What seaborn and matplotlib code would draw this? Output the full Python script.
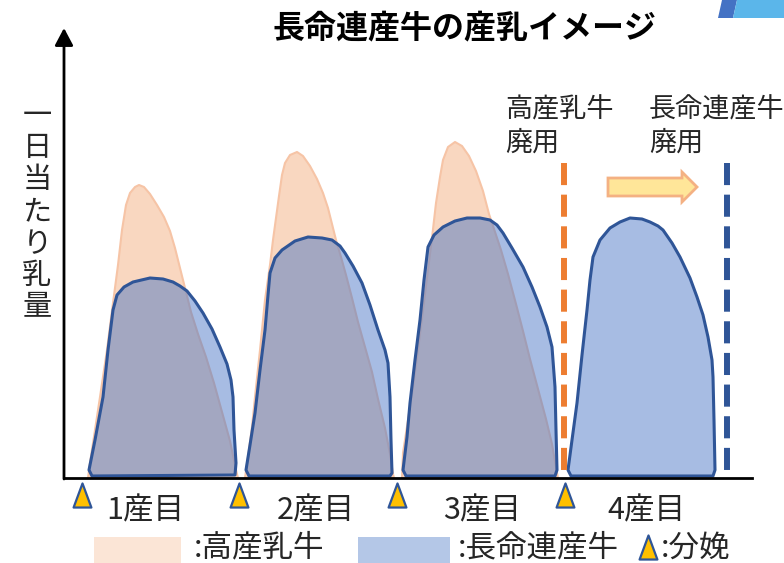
import matplotlib
matplotlib.use('Agg')
import matplotlib.pyplot as plt
import seaborn as sns
from matplotlib.patches import FancyArrow, Rectangle, Polygon
from matplotlib.path import Path

# Outlines of each lactation curve (x: time from the axis origin, y: daily milk)
high_1_x = [24, 26, 31, 36, 43, 49, 54, 58, 62, 66, 71, 75, 80, 86, 93, 100, 106, 111, 116, 121, 127, 134, 142, 150, 158, 166, 172, 174]
high_1_y = [0, 15, 48, 81, 128, 175, 213, 248, 273, 285, 291, 293, 291, 284, 273, 261, 247, 230, 210, 190, 166, 144, 121, 95, 66, 37, 8, 0]
high_2_x = [181, 184, 188, 191, 196, 201, 206, 209, 212, 215, 218, 221, 226, 233, 239, 246, 253, 259, 264, 268, 272, 277, 282, 288, 294, 301, 308, 314, 321, 326, 329, 330]
high_2_y = [0, 21, 51, 81, 128, 178, 213, 238, 260, 282, 303, 315, 323, 326, 322, 312, 299, 285, 270, 254, 238, 221, 203, 180, 156, 131, 106, 79, 50, 24, 4, 0]
high_3_x = [338, 339, 344, 349, 354, 359, 364, 368, 372, 376, 379, 384, 391, 398, 405, 412, 419, 425, 431, 437, 444, 452, 459, 466, 474, 482, 488, 493, 494]
high_3_y = [0, 25, 58, 91, 128, 168, 208, 240, 275, 301, 318, 331, 336, 332, 322, 307, 287, 264, 246, 228, 204, 174, 147, 119, 89, 59, 34, 5, 0]

long_1_x = [28, 25, 31, 39, 44, 49, 53, 60, 69, 86, 99, 109, 116, 123, 131, 139, 148, 156, 163, 167, 169, 170, 172, 171]
long_1_y = [2, 8, 38, 81, 128, 168, 183, 191, 196, 200, 199, 196, 192, 187, 177, 165, 149, 131, 114, 98, 81, 48, 15, 3]
long_2_x = [185, 182, 186, 191, 196, 201, 204, 206, 211, 218, 231, 244, 258, 268, 276, 281, 289, 298, 306, 314, 321, 324, 326, 327, 328, 326]
long_2_y = [2, 8, 33, 65, 108, 148, 183, 205, 220, 228, 237, 241, 240, 238, 232, 225, 212, 195, 173, 148, 128, 115, 81, 38, 5, 2]
long_3_x = [342, 339, 343, 346, 351, 356, 360, 364, 370, 379, 391, 403, 416, 426, 433, 439, 448, 459, 468, 476, 483, 488, 491, 492, 493, 491]
long_3_y = [2, 8, 41, 75, 118, 158, 198, 231, 243, 251, 257, 260, 260, 258, 253, 245, 230, 211, 191, 171, 151, 131, 91, 48, 8, 2]
long_4_x = [507, 504, 508, 513, 518, 523, 526, 529, 536, 546, 556, 566, 578, 586, 594, 599, 608, 616, 626, 633, 639, 644, 648, 649, 650, 651, 649]
long_4_y = [2, 8, 38, 75, 123, 168, 198, 221, 238, 250, 256, 260, 259, 256, 252, 248, 235, 221, 200, 181, 163, 141, 118, 101, 58, 8, 2]

calving_x = [18, 175, 333, 501]
parity_labels = ['1産目', '2産目', '3産目', '4産目']
parity_x = [81, 252, 418, 582]
cull_high_x = 500
cull_long_x = 663
cull_top = 315

sns.set_theme(style='white')
plt.rcParams['font.family'] = ['Noto Sans CJK JP', 'DejaVu Sans']

orange_fill = (244/255, 177/255, 131/255, 0.5)
orange_edge = (246/255, 196/255, 166/255)
blue_fill = (68/255, 114/255, 196/255, 0.47)
blue_edge = '#2F5597'
txt = '#262626'

fig = plt.figure(figsize=(7.84, 5.63), dpi=100)
ax = fig.add_axes([64/784, 85/563, 688/784, 448/563])
ax.set_xlim(0, 688)
ax.set_ylim(0, 448)
ax.set_xticks([])
ax.set_yticks([])
for s in ['top', 'right', 'left']:
    ax.spines[s].set_visible(False)
ax.spines['bottom'].set_color('black')
ax.spines['bottom'].set_linewidth(2)
ax.spines['bottom'].set_zorder(6)

for hx, hy in [(high_1_x, high_1_y), (high_2_x, high_2_y), (high_3_x, high_3_y)]:
    ax.fill(hx, hy, facecolor=orange_fill, edgecolor=orange_edge, lw=1.5, zorder=1, joinstyle='round')
for lx, ly in [(long_1_x, long_1_y), (long_2_x, long_2_y), (long_3_x, long_3_y), (long_4_x, long_4_y)]:
    ax.fill(lx, ly, facecolor=blue_fill, edgecolor=blue_edge, lw=2.2, zorder=2, joinstyle='round')

# cull lines
sns.lineplot(x=[cull_high_x, cull_high_x], y=[cull_top, 0], estimator=None, sort=False,
             color='#ED7D31', lw=4.3, linestyle=(0, (3.7, 1.6)), ax=ax, zorder=3)
sns.lineplot(x=[cull_long_x, cull_long_x], y=[cull_top, 0], estimator=None, sort=False,
             color=blue_edge, lw=4.3, linestyle=(0, (3.7, 1.6)), ax=ax, zorder=3)

ax.add_patch(FancyArrow(544, 291, 89, 0, width=18, head_width=30, head_length=15,
                        length_includes_head=True, fc='#FFE699', ec='#F4B183', lw=2, zorder=4))

# y axis with arrow
ax.annotate('', xy=(0, 450), xytext=(0, -1), annotation_clip=False,
            arrowprops=dict(arrowstyle='-|>,head_length=0.7,head_width=0.37', mutation_scale=15,
                            color='black', lw=2, shrinkA=0, shrinkB=0))

tri = Path([(-0.37, -0.5), (0.37, -0.5), (0, 0.5), (-0.37, -0.5)],
           [Path.MOVETO, Path.LINETO, Path.LINETO, Path.CLOSEPOLY])
ax.scatter(calving_x, [-17] * len(calving_x), marker=tri, s=300, c='#FFC000',
           edgecolors=blue_edge, linewidths=1.6, clip_on=False, zorder=5)

for lab, px in zip(parity_labels, parity_x):
    ax.text(px, -33, lab, ha='center', va='center', fontsize=22, color=txt)

ax.text(-27, 266, '\n'.join('一日当たり乳量'), ha='center', va='center', fontsize=21,
        color=txt, linespacing=1.08)

ax.text(441, 368, '高産乳牛', ha='left', va='center', fontsize=19.5, color=txt)
ax.text(441, 335, '廃用', ha='left', va='center', fontsize=19.5, color=txt)
ax.text(585, 368, '長命連産牛', ha='left', va='center', fontsize=19.5, color=txt)
ax.text(585, 335, '廃用', ha='left', va='center', fontsize=19.5, color=txt)

# legend row
ax.add_patch(Rectangle((30, -85), 87, 26, fc='#FBE5D6', ec='none', clip_on=False))
ax.text(130, -70, ':高産乳牛', ha='left', va='center', fontsize=22, color=txt)
ax.add_patch(Rectangle((294, -85), 92, 26, fc='#B4C7E7', ec='none', clip_on=False))
ax.text(394, -70, ':長命連産牛', ha='left', va='center', fontsize=22, color=txt)
ax.scatter([584], [-69], marker=tri, s=300, c='#FFC000',
           edgecolors=blue_edge, linewidths=1.6, clip_on=False, zorder=5)
ax.text(597, -70, ':分娩', ha='left', va='center', fontsize=22, color=txt)

fig.text(465/784, 1 - 28/563, '長命連産牛の産乳イメージ', ha='center', va='center',
         fontsize=23, fontweight='bold', color='black')

# decoration in the top right corner
W, H = 784, 563
fig.add_artist(Polygon([(718/W, 1 - 18/H), (733/W, 1 - 18/H), (737/W, 1), (722/W, 1)],
                       closed=True, fc='#4472C4', ec='none', transform=fig.transFigure))
fig.add_artist(Polygon([(733/W, 1 - 18/H), (1, 1 - 18/H), (1, 1), (737/W, 1)],
                       closed=True, fc='#5BB6EA', ec='none', transform=fig.transFigure))

fig.savefig('out.png', dpi=100)
